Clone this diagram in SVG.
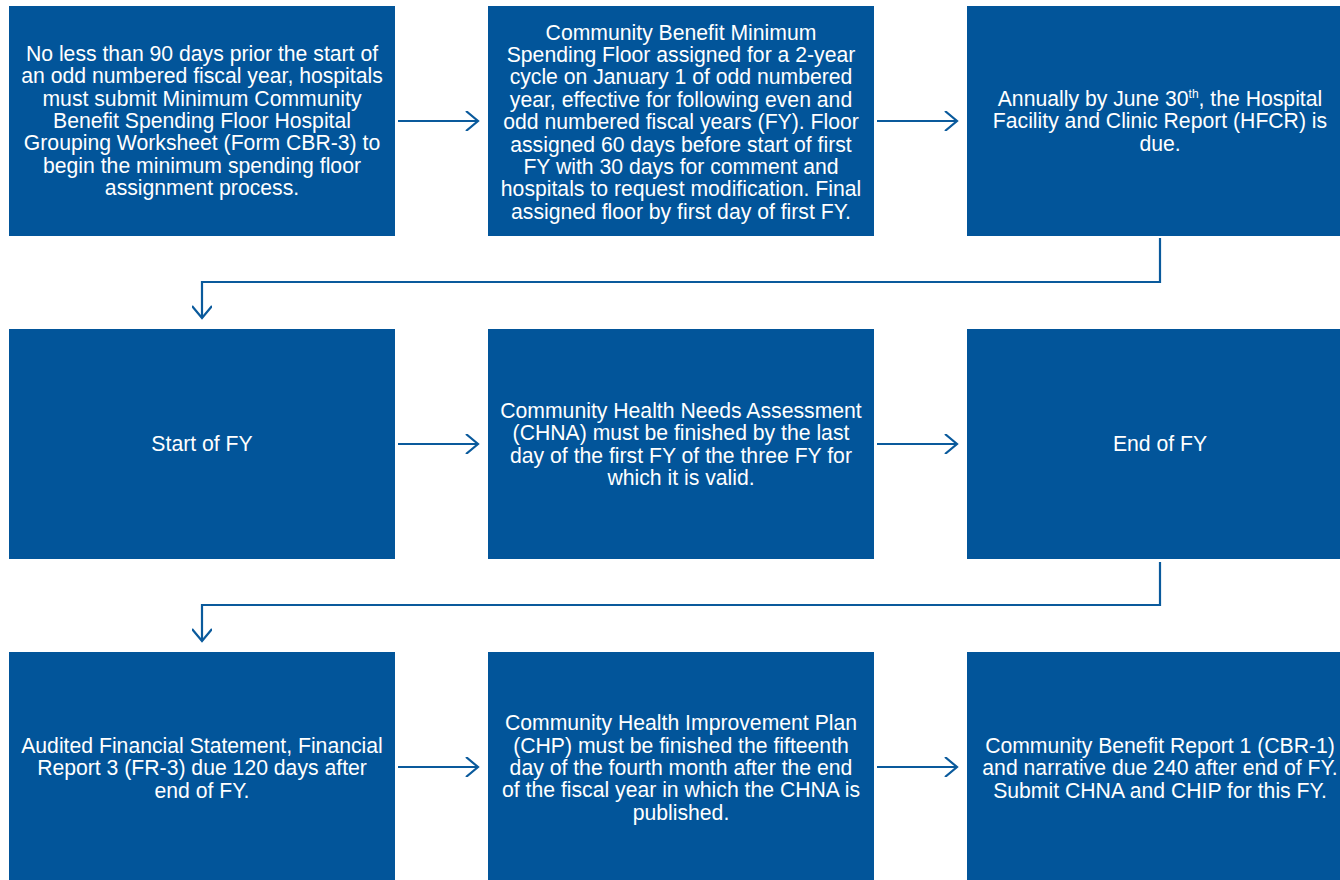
<svg xmlns="http://www.w3.org/2000/svg" width="1340" height="880" viewBox="0 0 1340 880">
<defs>
<style>
.box{fill:#02559a}
.t{font-family:"Liberation Sans",Arial,sans-serif;font-size:21.2px;fill:#ffffff;text-anchor:middle}
.c{fill:none;stroke:#0a5a9c;stroke-width:2.2}
</style>
<marker id="ah" markerWidth="20" markerHeight="20" refX="14" refY="10" orient="auto" markerUnits="userSpaceOnUse">
<path d="M2,0 L14,10 L2,20" fill="none" stroke="#0a5a9c" stroke-width="2.2"/>
</marker>
</defs>
<rect width="1340" height="880" fill="#ffffff"/>
<g id="n1"><rect class="box" x="9" y="6" width="386" height="230"/>
<text class="t"><tspan x="202" y="61">No less than 90 days prior the start of</tspan><tspan x="202" y="83">an odd numbered fiscal year, hospitals</tspan><tspan x="202" y="106">must submit Minimum Community</tspan><tspan x="202" y="128">Benefit Spending Floor Hospital</tspan><tspan x="202" y="150">Grouping Worksheet (Form CBR-3) to</tspan><tspan x="202" y="173">begin the minimum spending floor</tspan><tspan x="202" y="195">assignment process.</tspan></text></g>
<g id="n2"><rect class="box" x="488" y="6" width="386" height="230"/>
<text class="t"><tspan x="681" y="40">Community Benefit Minimum</tspan><tspan x="681" y="62">Spending Floor assigned for a 2-year</tspan><tspan x="681" y="84">cycle on January 1 of odd numbered</tspan><tspan x="681" y="107">year, effective for following even and</tspan><tspan x="681" y="129">odd numbered fiscal years (FY). Floor</tspan><tspan x="681" y="152">assigned 60 days before start of first</tspan><tspan x="681" y="174">FY with 30 days for comment and</tspan><tspan x="681" y="196">hospitals to request modification. Final</tspan><tspan x="681" y="219">assigned floor by first day of first FY.</tspan></text></g>
<g id="n3"><rect class="box" x="967" y="6" width="386" height="230"/>
<text class="t"><tspan x="1160" y="106">Annually by June 30<tspan font-size="12" dy="-8">th</tspan><tspan dy="8">, the Hospital</tspan></tspan><tspan x="1160" y="128">Facility and Clinic Report (HFCR) is</tspan><tspan x="1160" y="151">due.</tspan></text></g>
<g id="n4"><rect class="box" x="9" y="329" width="386" height="230"/>
<text class="t"><tspan x="202" y="451">Start of FY</tspan></text></g>
<g id="n5"><rect class="box" x="488" y="329" width="386" height="230"/>
<text class="t"><tspan x="681" y="418">Community Health Needs Assessment</tspan><tspan x="681" y="440">(CHNA) must be finished by the last</tspan><tspan x="681" y="463">day of the first FY of the three FY for</tspan><tspan x="681" y="485">which it is valid.</tspan></text></g>
<g id="n6"><rect class="box" x="967" y="329" width="386" height="230"/>
<text class="t"><tspan x="1160" y="451">End of FY</tspan></text></g>
<g id="n7"><rect class="box" x="9" y="652" width="386" height="232"/>
<text class="t"><tspan x="202" y="753">Audited Financial Statement, Financial</tspan><tspan x="202" y="775">Report 3 (FR-3) due 120 days after</tspan><tspan x="202" y="798">end of FY.</tspan></text></g>
<g id="n8"><rect class="box" x="488" y="652" width="386" height="232"/>
<text class="t"><tspan x="681" y="730">Community Health Improvement Plan</tspan><tspan x="681" y="753">(CHP) must be finished the fifteenth</tspan><tspan x="681" y="775">day of the fourth month after the end</tspan><tspan x="681" y="797">of the fiscal year in which the CHNA is</tspan><tspan x="681" y="820">published.</tspan></text></g>
<g id="n9"><rect class="box" x="967" y="652" width="386" height="232"/>
<text class="t"><tspan x="1160" y="753">Community Benefit Report 1 (CBR-1)</tspan><tspan x="1160" y="775">and narrative due 240 after end of FY.</tspan><tspan x="1160" y="798">Submit CHNA and CHIP for this FY.</tspan></text></g>
<g id="connectors">
<path class="c" d="M398,121 H478" marker-end="url(#ah)"/>
<path class="c" d="M877,121 H957" marker-end="url(#ah)"/>
<path class="c" d="M1160,238 V282 H202 V318" marker-end="url(#ah)"/>
<path class="c" d="M398,444 H478" marker-end="url(#ah)"/>
<path class="c" d="M877,444 H957" marker-end="url(#ah)"/>
<path class="c" d="M1160,562 V605 H202 V641" marker-end="url(#ah)"/>
<path class="c" d="M398,767 H478" marker-end="url(#ah)"/>
<path class="c" d="M877,767 H957" marker-end="url(#ah)"/>
</g>
</svg>
